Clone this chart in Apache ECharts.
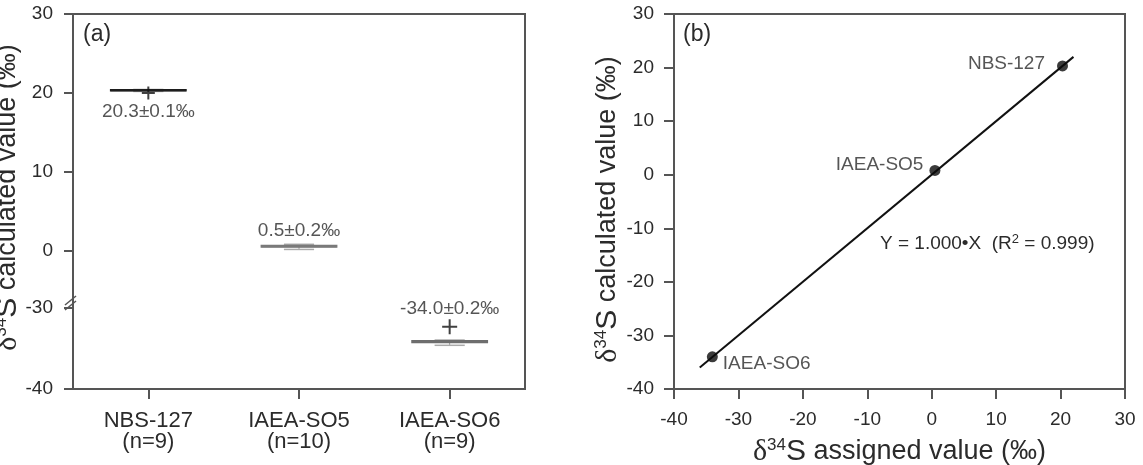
<!DOCTYPE html>
<html>
<head>
<meta charset="utf-8">
<script src="https://cdn.jsdelivr.net/npm/echarts@6/dist/echarts.min.js"></script>
<style>
html, body { margin: 0; padding: 0; background: #fff; }
#main { width: 1143px; height: 465px; }
</style>
</head>
<body>
<div id="main"></div>
<script type="application/javascript">

// ---- panel (a) data ----
var samples = ['NBS-127', 'IAEA-SO5', 'IAEA-SO6'];
var sampleN = [9, 10, 9];
// [min, Q1, median, Q3, max]
var boxNBS = [20.2, 20.3, 20.35, 20.4, 20.45];
var boxSO5 = [0.2, 0.5, 0.6, 0.7, 0.85];
var boxSO6 = [-34.6, -34.25, -34.15, -34.05, -33.95];
var meanVal = [20.3, 0.5, -34.0];
var sdVal = [0.1, 0.2, 0.2];
var crossVal = [20.0, null, -32.3];
var upperTicks = [0, 10, 20, 30];
var lowerTicks = [-40, -30];

// ---- panel (b) data ----
var assignedX = [20.3, 0.5, -34.05];
var calcY = [20.3, 0.8, -34.0];
var fitX = [-36, 22];
var fitY = [-36, 22];

var FONT = "'Liberation Sans', Arial, sans-serif";
var TXT = '#2b2b2b';
var AX = '#555';

var boxRows = [boxNBS, boxSO5, boxSO6];
var boxTone = ['#1e1e1e', '#7a7a7a', '#6e6e6e'];

function pick(test) {
    var out = [];
    for (var i = 0; i < boxRows.length; i++) {
        if (test(boxRows[i][2])) out.push([i].concat(boxRows[i]));
    }
    return out;
}
function pickCross(test) {
    var out = [];
    for (var i = 0; i < crossVal.length; i++) {
        if (crossVal[i] !== null && test(crossVal[i])) out.push([i, crossVal[i]]);
    }
    return out;
}
function pickLabel(test) {
    var out = [];
    var pos = [['bottom', 12], ['top', 6], ['top', 23]];
    for (var i = 0; i < boxRows.length; i++) {
        if (!test(boxRows[i][2])) continue;
        out.push({
            value: [i, boxRows[i][2]],
            label: {position: pos[i][0], distance: pos[i][1]}
        });
    }
    return out;
}
var isUpper = function (v) { return v > -20; };
var isLower = function (v) { return v <= -20; };

function renderBox(params, api) {
    var i = api.value(0);
    var w = api.size([1, 0])[0] * 0.5;
    var cw = w * 0.4;
    var pMin = api.coord([i, api.value(1)]);
    var pQ1 = api.coord([i, api.value(2)]);
    var pMed = api.coord([i, api.value(3)]);
    var pQ3 = api.coord([i, api.value(4)]);
    var pMax = api.coord([i, api.value(5)]);
    var x = pMed[0];
    var tone = boxTone[i];
    return {
        type: 'group',
        children: [
            {type: 'line', shape: {x1: x, y1: pMin[1], x2: x, y2: pQ1[1]}, style: {stroke: '#999', lineWidth: 1}},
            {type: 'line', shape: {x1: x, y1: pMax[1], x2: x, y2: pQ3[1]}, style: {stroke: '#999', lineWidth: 1}},
            {type: 'line', shape: {x1: x - cw / 2, y1: pMin[1], x2: x + cw / 2, y2: pMin[1]}, style: {stroke: '#aaa', lineWidth: 1.5}},
            {type: 'line', shape: {x1: x - cw / 2, y1: pMax[1], x2: x + cw / 2, y2: pMax[1]}, style: {stroke: '#aaa', lineWidth: 1.5}},
            {type: 'rect', shape: {x: x - w / 2, y: pQ3[1], width: w, height: Math.max(1, pQ1[1] - pQ3[1])},
                style: {fill: '#999', stroke: tone, lineWidth: 1.5}},
            {type: 'line', shape: {x1: x - w / 2, y1: pMed[1], x2: x + w / 2, y2: pMed[1]}, style: {stroke: tone, lineWidth: 2}}
        ]
    };
}

var plusPath = 'path://M0,6L12,6M6,0L6,12';

var titleRich = {
    d: {fontFamily: "'Liberation Serif', serif", fontSize: 30, color: TXT},
    s: {fontFamily: FONT, fontSize: 17, color: TXT, verticalAlign: 'top', padding: [0, 0, 11, 0]},
    S: {fontFamily: FONT, fontSize: 30, color: TXT},
    t: {fontFamily: FONT, fontSize: 27, color: TXT}
};
var labelFont = {fontSize: 19, color: TXT, fontFamily: FONT};

var aLeft = 73, aTop = 14, aW = 452, aH = 375, breakY = 300;
var bLeft = 674, bW = 451;

var myChart = echarts.init(document.getElementById('main'));

var option = {
    animation: false,
    backgroundColor: '#fff',
    textStyle: {fontFamily: FONT},
    grid: [
        // frame of panel (a)
        {left: aLeft, top: aTop, width: aW, height: aH, show: true, borderColor: AX, borderWidth: 2, outerBoundsMode: 'none'},
        // upper part of the broken axis
        {left: aLeft, top: aTop, width: aW, height: breakY - aTop, outerBoundsMode: 'none'},
        // lower part of the broken axis
        {left: aLeft, top: breakY, width: aW, height: aTop + aH - breakY, outerBoundsMode: 'none'},
        // panel (b)
        {left: bLeft, top: aTop, width: bW, height: aH, show: true, borderColor: AX, borderWidth: 2, outerBoundsMode: 'none'}
    ],
    xAxis: [
        {gridIndex: 0, type: 'value', show: false},
        {gridIndex: 1, type: 'category', data: samples, show: false},
        {
            gridIndex: 2, type: 'category', data: samples,
            axisLine: {show: false},
            axisTick: {show: true, alignWithLabel: true, length: 10, lineStyle: {color: AX, width: 2}},
            axisLabel: {
                margin: 21, fontSize: 22, lineHeight: 21, color: TXT, fontFamily: FONT,
                formatter: function (v, idx) { return v + '\n(n=' + sampleN[idx] + ')'; }
            }
        },
        {
            gridIndex: 3, type: 'value', min: -40, max: 30, interval: 10,
            axisLine: {show: true, onZero: false, lineStyle: {color: AX, width: 2}},
            axisTick: {length: 10, lineStyle: {color: AX, width: 2}},
            axisLabel: {margin: 21, fontSize: 19, color: TXT, fontFamily: FONT},
            splitLine: {show: false},
            name: '{d|δ}{s|34}{S|S}{t| assigned value (‰)}',
            nameLocation: 'middle', nameGap: 48,
            nameTextStyle: {rich: titleRich}
        }
    ],
    yAxis: [
        {
            gridIndex: 0, type: 'value', min: 0, max: 1,
            axisLine: {show: false}, axisTick: {show: false}, axisLabel: {show: false}, splitLine: {show: false},
            name: '{d|δ}{s|34}{S|S}{t| calculated value (‰)}',
            nameLocation: 'middle', nameGap: 50, nameRotate: 90,
            nameTextStyle: {rich: titleRich, padding: [0, 0, 0, 8]}
        },
        {
            gridIndex: 1, type: 'value', min: -6.2, max: 30,
            axisLine: {show: false},
            axisTick: {show: true, length: 9, customValues: upperTicks, lineStyle: {color: AX, width: 2}},
            axisLabel: {customValues: upperTicks, margin: 20, fontSize: 19, color: TXT, fontFamily: FONT},
            splitLine: {show: false}
        },
        {
            gridIndex: 2, type: 'value', min: -40, max: -29,
            axisLine: {show: false},
            axisTick: {show: true, length: 9, customValues: lowerTicks, lineStyle: {color: AX, width: 2}},
            axisLabel: {customValues: lowerTicks, margin: 20, fontSize: 19, color: TXT, fontFamily: FONT},
            splitLine: {show: false}
        },
        {
            gridIndex: 3, type: 'value', min: -40, max: 30, interval: 10,
            axisLine: {show: true, onZero: false, lineStyle: {color: AX, width: 2}},
            axisTick: {length: 10, lineStyle: {color: AX, width: 2}},
            axisLabel: {margin: 20, fontSize: 19, color: TXT, fontFamily: FONT},
            splitLine: {show: false},
            name: '{d|δ}{s|34}{S|S}{t| calculated value (‰)}',
            nameLocation: 'middle', nameGap: 50, nameRotate: 90,
            nameTextStyle: {rich: titleRich, padding: [0, 16, 0, 0]}
        }
    ],
    series: [
        {type: 'custom', xAxisIndex: 1, yAxisIndex: 1, renderItem: renderBox, data: pick(isUpper)},
        {type: 'custom', xAxisIndex: 2, yAxisIndex: 2, renderItem: renderBox, data: pick(isLower)},
        {
            type: 'scatter', xAxisIndex: 1, yAxisIndex: 1, symbol: plusPath, symbolSize: 13,
            itemStyle: {color: 'none', borderColor: '#111', borderWidth: 2}, data: pickCross(isUpper), z: 5
        },
        {
            type: 'scatter', xAxisIndex: 2, yAxisIndex: 2, symbol: plusPath, symbolSize: 15,
            itemStyle: {color: 'none', borderColor: '#111', borderWidth: 2}, data: pickCross(isLower), z: 5
        },
        {
            type: 'scatter', xAxisIndex: 1, yAxisIndex: 1, symbolSize: 0, silent: true,
            label: echarts.util.extend({show: true,
                formatter: function (p) { return meanVal[p.value[0]].toFixed(1) + '±' + sdVal[p.value[0]].toFixed(1) + '‰'; }}, labelFont),
            data: pickLabel(isUpper)
        },
        {
            type: 'scatter', xAxisIndex: 2, yAxisIndex: 2, symbolSize: 0, silent: true,
            label: echarts.util.extend({show: true,
                formatter: function (p) { return meanVal[p.value[0]].toFixed(1) + '±' + sdVal[p.value[0]].toFixed(1) + '‰'; }}, labelFont),
            data: pickLabel(isLower)
        },
        // panel (b)
        {
            type: 'line', xAxisIndex: 3, yAxisIndex: 3, showSymbol: false, silent: true,
            lineStyle: {color: '#111', width: 2},
            data: fitX.map(function (x, i) { return [x, fitY[i]]; })
        },
        {
            type: 'scatter', xAxisIndex: 3, yAxisIndex: 3, symbolSize: 11,
            itemStyle: {color: '#0a0a0a'}, z: 4,
            label: echarts.util.extend({show: true, formatter: function (p) { return samples[p.dataIndex]; }}, labelFont),
            data: assignedX.map(function (x, i) {
                var lab = [
                    {position: 'left', distance: 12, offset: [0, -2]},
                    {position: 'left', distance: 6, offset: [0, -6]},
                    {position: 'right', distance: 5, offset: [0, 7]}
                ][i];
                return {value: [x, calcY[i]], label: lab};
            })
        }
    ],
    graphic: [
        {type: 'text', left: 83, top: 23, style: {text: '(a)', font: '23px ' + FONT, fill: TXT}},
        {type: 'text', left: 683, top: 23, style: {text: '(b)', font: '23px ' + FONT, fill: TXT}},
        {
            type: 'text', left: 880, top: 233,
            style: {
                text: '{t|Y = 1.000•X  (R}{p|2}{t| = 0.999)}',
                rich: {
                    t: {fontSize: 19, fontFamily: FONT, fill: TXT, color: TXT},
                    p: {fontSize: 13, fontFamily: FONT, fill: TXT, color: TXT, verticalAlign: 'top', padding: [0, 0, 8, 0]}
                }
            }
        },
        // axis break marks
        {type: 'line', shape: {x1: aLeft - 8, y1: breakY + 5, x2: aLeft + 3, y2: breakY - 4}, style: {stroke: AX, lineWidth: 1.5}},
        {type: 'line', shape: {x1: aLeft - 8, y1: breakY + 10, x2: aLeft + 3, y2: breakY + 1}, style: {stroke: AX, lineWidth: 1.5}}
    ]
};

myChart.setOption(option);
</script>
</body>
</html>
